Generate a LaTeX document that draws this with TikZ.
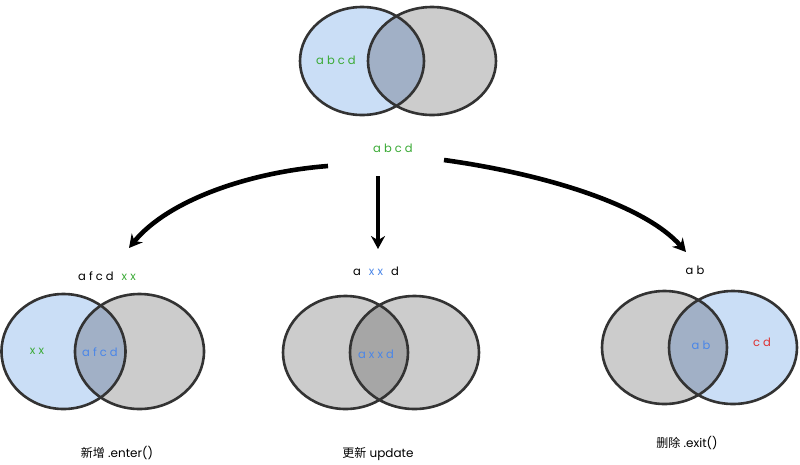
\documentclass[tikz,border=0pt]{standalone}
\usepackage{fontspec}
\setmainfont{Poppins}
\newfontfamily\cjk{Noto Sans CJK SC}
\usetikzlibrary{arrows.meta}
\definecolor{vblue}{HTML}{CADEF6}
\definecolor{vgray}{HTML}{CCCCCC}
\definecolor{vmix}{HTML}{A1B0C6}
\definecolor{vdark}{HTML}{A6A6A6}
\definecolor{vline}{HTML}{333333}
\definecolor{tgreen}{HTML}{3AAA35}
\definecolor{tblue}{HTML}{4A86E8}
\definecolor{tred}{HTML}{DD3333}
\tikzset{
  outline/.style={draw=vline, line width=2.6pt},
  lbl/.style={font=\fontsize{11.5}{13}\selectfont, inner sep=0pt},
  captext/.style={font=\fontsize{12}{14}\selectfont, inner sep=0pt},
  flow/.style={line width=4.6pt, -{Stealth[length=13pt,width=14pt]}},
}
\newcommand{\gap}{\hspace{0.7em}}
\begin{document}
\begin{tikzpicture}[x=1pt,y=-1pt]
\useasboundingbox (0,0) rectangle (800,464);
% ---------- top ----------
\fill[vblue] (362,61) ellipse (62 and 54);
\fill[vgray] (432,61) ellipse (64 and 54);
\begin{scope}
  \clip (362,61) ellipse (62 and 54);
  \fill[vmix] (432,61) ellipse (64 and 54);
\end{scope}
\draw[outline] (362,61) ellipse (62 and 54);
\draw[outline] (432,61) ellipse (64 and 54);
\node[lbl, text=tgreen] (topin) at (336,60) {a b c d};
\node[lbl, text=tgreen] (src) at (393,148) {a b c d};
% ---------- bottom left (enter) ----------
\fill[vblue] (63.5,351.5) ellipse (62 and 57.5);
\fill[vgray] (139.5,351.5) ellipse (64.5 and 57.5);
\begin{scope}
  \clip (63.5,351.5) ellipse (62 and 57.5);
  \fill[vmix] (139.5,351.5) ellipse (64.5 and 57.5);
\end{scope}
\draw[outline] (63.5,351.5) ellipse (62 and 57.5);
\draw[outline] (139.5,351.5) ellipse (64.5 and 57.5);
\node[lbl] (entertop) at (107,276) {a f c d\gap\textcolor{tgreen}{x x}};
\node[lbl, text=tgreen] (enternew) at (37,351) {x x};
\node[lbl, text=tblue] (entermid) at (100,352) {a f c d};
\node[captext] (entercap) at (117,453) {{\cjk 新增} .enter()};
% ---------- bottom middle (update) ----------
\fill[vgray] (345.5,352.5) ellipse (62.5 and 56.5);
\fill[vgray] (414.5,352.5) ellipse (64.5 and 56.5);
\begin{scope}
  \clip (345.5,352.5) ellipse (62.5 and 56.5);
  \fill[vdark] (414.5,352.5) ellipse (64.5 and 56.5);
\end{scope}
\draw[outline] (345.5,352.5) ellipse (62.5 and 56.5);
\draw[outline] (414.5,352.5) ellipse (64.5 and 56.5);
\node[lbl] (updtop) at (376,271) {a\gap\textcolor{tblue}{x x}\gap d};
\node[lbl, text=tblue] (updmid) at (376,354) {a x x d};
\node[captext] (updcap) at (378,454) {{\cjk 更新} update};
% ---------- bottom right (exit) ----------
\fill[vgray] (664.5,347.5) ellipse (62.5 and 56.5);
\fill[vblue] (733,347.5) ellipse (64 and 56.5);
\begin{scope}
  \clip (664.5,347.5) ellipse (62.5 and 56.5);
  \fill[vmix] (733,347.5) ellipse (64 and 56.5);
\end{scope}
\draw[outline] (664.5,347.5) ellipse (62.5 and 56.5);
\draw[outline] (733,347.5) ellipse (64 and 56.5);
\node[lbl] (exittop) at (695,270) {a b};
\node[lbl, text=tblue] (exitmid) at (701,345) {a b};
\node[lbl, text=tred] (exitold) at (762,342) {c d};
\node[captext] (exitcap) at (687,443) {{\cjk 删除} .exit()};
% ---------- arrows ----------
\coordinate (lstart) at (328,166);
\coordinate (lend) at (129,248);
\coordinate (mstart) at (378,176);
\coordinate (mend) at (378,249);
\coordinate (rstart) at (444,160);
\coordinate (rend) at (686,252);
\draw[flow] (lstart) .. controls (250,172) and (168,200) .. (lend);
\draw[flow] (mstart) -- (mend);
\draw[flow] (rstart) .. controls (545,174) and (645,205) .. (rend);
\end{tikzpicture}
\end{document}
